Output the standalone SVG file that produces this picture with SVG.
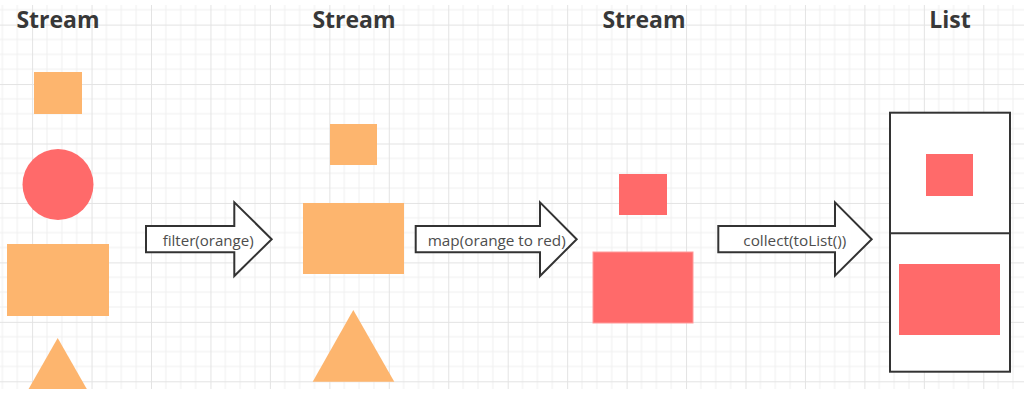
<svg xmlns="http://www.w3.org/2000/svg" width="1024" height="408" viewBox="0 0 1024 408">
  <defs>
    <pattern id="grid" patternUnits="userSpaceOnUse" x="32.1" y="24.6" width="59.45" height="59.45">
      <path d="M14.86 0V59.45M29.72 0V59.45M44.59 0V59.45M0 14.86H59.45M0 29.72H59.45M0 44.59H59.45" stroke="#efefef" stroke-width="1" fill="none"/>
      <path d="M0.5 0V59.45M0 0.5H59.45" stroke="#e3e3e3" stroke-width="1" fill="none"/>
    </pattern>
  </defs>
  <style>
    .title { font-family: "Open Sans", "Liberation Sans", sans-serif; font-weight: bold; font-size: 23px; fill: #383838; text-anchor: middle; }
    .orange { fill: #FDB56E; }
    .red { fill: #FF6A6A; }
    .arrow { fill: #ffffff; stroke: #333333; stroke-width: 2; stroke-linejoin: miter; }
    .label { font-family: "Open Sans", "Liberation Sans", sans-serif; font-size: 14px; fill: #4d4d4d; }
    .box { fill: #ffffff; stroke: #333333; stroke-width: 2; }
  </style>
  <rect x="0" y="0" width="1024" height="408" fill="#ffffff"/>
  <rect x="0" y="5" width="1024" height="384" fill="url(#grid)"/>

  <g id="stream1">
    <text class="title" x="58" y="28">Stream</text>
    <rect class="orange" x="34" y="72" width="48" height="42"/>
    <circle class="red" cx="58" cy="184.5" r="35.5"/>
    <rect class="orange" x="7" y="244" width="102" height="72"/>
    <polygon class="orange" points="57.7,338 86.8,389 28.6,389"/>
  </g>

  <g id="stream2">
    <text class="title" x="354" y="28">Stream</text>
    <rect class="orange" x="330" y="124" width="47" height="41"/>
    <rect class="orange" x="303" y="203" width="101" height="71"/>
    <polygon class="orange" points="353.3,310 394.3,381.7 312.7,381.7"/>
  </g>

  <g id="stream3">
    <text class="title" x="644" y="28">Stream</text>
    <rect class="red" x="619" y="174" width="48" height="41"/>
    <rect class="red" x="593" y="252" width="100" height="71" stroke="#ff9a9a" stroke-width="1"/>
  </g>

  <g id="list">
    <text class="title" x="950" y="28">List</text>
    <rect class="box" x="890" y="112.7" width="120" height="259"/>
    <line x1="890" y1="233.3" x2="1010" y2="233.3" stroke="#333333" stroke-width="2"/>
    <rect class="red" x="926" y="154" width="47" height="42"/>
    <rect class="red" x="899" y="264" width="101" height="71"/>
  </g>

  <g id="connectors">
    <g id="arrow-filter">
      <polygon class="arrow" points="146,226 234.3,226 234.3,202.3 271.7,239.2 234.3,276 234.3,252.3 146,252.3"/>
      <text class="label" x="162.7" y="246" textLength="91" lengthAdjust="spacingAndGlyphs">filter(orange)</text>
    </g>
    <g id="arrow-map">
      <polygon class="arrow" points="415.7,226 540,226 540,202.3 576.7,239.2 540,276 540,252.3 415.7,252.3"/>
      <text class="label" x="427.7" y="246" textLength="138" lengthAdjust="spacingAndGlyphs">map(orange to red)</text>
    </g>
    <g id="arrow-collect">
      <polygon class="arrow" points="718.3,226 835,226 835,202.3 871.7,239.2 835,275.7 835,252.3 718.3,252.3"/>
      <text class="label" x="743.3" y="246" textLength="103" lengthAdjust="spacingAndGlyphs">collect(toList())</text>
    </g>
  </g>
</svg>
